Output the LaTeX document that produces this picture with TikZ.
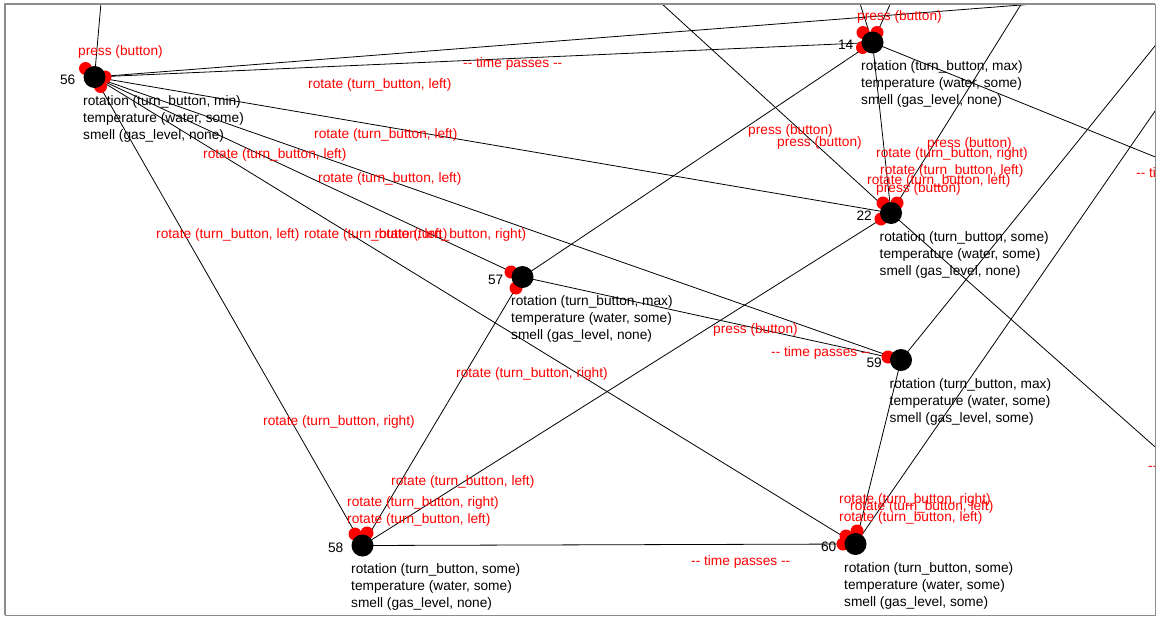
\documentclass[tikz,border=0pt]{standalone}
\usepackage{fontspec}
\setmainfont{Liberation Sans}
\usetikzlibrary{calc}
\definecolor{framegray}{RGB}{140,140,140}
\definecolor{actred}{RGB}{255,0,0}
\begin{document}
\begin{tikzpicture}[x=1pt,y=-1pt,
  edge/.style={line width=0.8pt, black},
  state/.style={circle, fill=black, minimum size=22pt, inner sep=0pt},
  head/.style={fill=actred},
  lbl/.style={inner sep=0pt, font=\fontsize{13.7}{17}\selectfont},
  num/.style={lbl, anchor=base east},
  info/.style={lbl, anchor=north west, align=left},
  act/.style={lbl, anchor=base west, text=actred},
]
\useasboundingbox (0,0) rectangle (1156,616);

% state positions
\coordinate (c56) at (94.5,77);
\coordinate (c14) at (872.5,42.5);
\coordinate (c22) at (891,213);
\coordinate (c57) at (522.5,277);
\coordinate (c59) at (901,360);
\coordinate (c58) at (362.5,545.5);
\coordinate (c60) at (855.5,544);

% states lying outside the visible window
\coordinate (o1) at (103,-20);
\coordinate (o2) at (1150,-5);
\coordinate (o3) at (855,-12);
\coordinate (o4) at (900,-17);
\coordinate (o5) at (650,-7);
\coordinate (o6) at (1030,-10);
\coordinate (o7) at (1180,167);
\coordinate (o8) at (1180,15);
\coordinate (o9) at (1180,75);
\coordinate (o10) at (1180,469);

\begin{scope}
\clip (5,4) rectangle (1155,615);

% transitions
\draw[edge] (c56) -- (o1);
\draw[edge] (c56) -- (o2);
\draw[edge] (c56) -- (c14);
\draw[edge] (c56) -- (c22);
\draw[edge] (c56) -- (c59);
\draw[edge] (c56) -- (c57);
\draw[edge] (c56) -- (c60);
\draw[edge] (c56) -- (c58);
\draw[edge] (o3) -- (c14);
\draw[edge] (o4) -- (c14);
\draw[edge] (c57) -- (c14);
\draw[edge] (c14) -- (c22);
\draw[edge] (c14) -- (o7);
\draw[edge] (o5) -- (c22);
\draw[edge] (o6) -- (c22);
\draw[edge] (c22) -- (o10);
\draw[edge] (c22) -- (c58);
\draw[edge] (o8) -- (c59);
\draw[edge] (o9) -- (c60);
\draw[edge] (c57) -- (c59);
\draw[edge] (c57) -- (c58);
\draw[edge] (c58) -- (c60);
\draw[edge] (c59) -- (c60);

% arrival marks
\fill[head] ($(c56)+(-9,-8.5)$) circle[radius=6.5];
\fill[head] ($(c56)+(10.5,0)$) circle[radius=6.5];
\fill[head] ($(c56)+(6,9.5)$) circle[radius=6.5];
\fill[head] ($(c14)+(-9.5,-10)$) circle[radius=6.5];
\fill[head] ($(c14)+(4.5,-10)$) circle[radius=6.5];
\fill[head] ($(c14)+(-10,5)$) circle[radius=6.5];
\fill[head] ($(c22)+(-8,-10)$) circle[radius=6.5];
\fill[head] ($(c22)+(6,-10)$) circle[radius=6.5];
\fill[head] ($(c22)+(-10,6)$) circle[radius=6.5];
\fill[head] ($(c57)+(-11.5,-5)$) circle[radius=6.5];
\fill[head] ($(c57)+(-6.5,11)$) circle[radius=6.5];
\fill[head] ($(c59)+(-13,-3)$) circle[radius=6.5];
\fill[head] ($(c58)+(-7.5,-11.5)$) circle[radius=6.5];
\fill[head] ($(c58)+(4.5,-12.5)$) circle[radius=6.5];
\fill[head] ($(c60)+(-9.5,-8)$) circle[radius=6.5];
\fill[head] ($(c60)+(1.5,-13)$) circle[radius=6.5];
\fill[head] ($(c60)+(-12.5,0)$) circle[radius=6.5];

% states
\foreach \s in {56,14,22,57,59,58,60}{
  \node[state] (s\s) at (c\s) {};
  \node[num] (n\s) at ($(c\s)+(-19,7)$) {\s};
}

% state descriptions
\node[info] (i56) at ($(c56)+(-11.5,17)$) {\rule{0pt}{11pt}rotation (turn\_button, min)\\temperature (water, some)\\smell (gas\_level, none)};
\node[info] (i14) at ($(c14)+(-11.5,17)$) {\rule{0pt}{11pt}rotation (turn\_button, max)\\temperature (water, some)\\smell (gas\_level, none)};
\node[info] (i22) at ($(c22)+(-11.5,17)$) {\rule{0pt}{11pt}rotation (turn\_button, some)\\temperature (water, some)\\smell (gas\_level, none)};
\node[info] (i57) at ($(c57)+(-11.5,17)$) {\rule{0pt}{11pt}rotation (turn\_button, max)\\temperature (water, some)\\smell (gas\_level, none)};
\node[info] (i59) at ($(c59)+(-11.5,17)$) {\rule{0pt}{11pt}rotation (turn\_button, max)\\temperature (water, some)\\smell (gas\_level, some)};
\node[info] (i58) at ($(c58)+(-11.5,17)$) {\rule{0pt}{11pt}rotation (turn\_button, some)\\temperature (water, some)\\smell (gas\_level, none)};
\node[info] (i60) at ($(c60)+(-11.5,17)$) {\rule{0pt}{11pt}rotation (turn\_button, some)\\temperature (water, some)\\smell (gas\_level, some)};

% transition labels
\node[act] (a1) at (78,55.5) {press (button)};
\node[act] (a2) at (463,67.5) {-{}- time passes -{}-};
\node[act] (a3) at (308,88.5) {rotate (turn\_button, left)};
\node[act] (a4) at (314,138.5) {rotate (turn\_button, left)};
\node[act] (a5) at (203,158.5) {rotate (turn\_button, left)};
\node[act] (a6) at (318,182.5) {rotate (turn\_button, left)};
\node[act] (a7) at (156,238.5) {rotate (turn\_button, left)};
\node[act] (a8) at (304,238) {rotate (turn\_button, left)};
\node[act] (a9) at (374.5,238) {rotate (turn\_button, right)};
\node[act] (a10) at (263,425.5) {rotate (turn\_button, right)};
\node[act] (a11) at (456,377.5) {rotate (turn\_button, right)};
\node[act] (a12) at (713,333.5) {press (button)};
\node[act] (a13) at (771,356.5) {-{}- time passes -{}-};
\node[act] (a14) at (391,485.5) {rotate (turn\_button, left)};
\node[act] (a15) at (347,506.5) {rotate (turn\_button, right)};
\node[act] (a16) at (347,523.5) {rotate (turn\_button, left)};
\node[act] (a17) at (691,565.5) {-{}- time passes -{}-};
\node[act] (a18) at (839,503.5) {rotate (turn\_button, right)};
\node[act] (a19) at (850,510.5) {rotate (turn\_button, left)};
\node[act] (a20) at (839,521.5) {rotate (turn\_button, left)};
\node[act] (a21) at (857,20) {press (button)};
\node[act] (a22) at (748,134.5) {press (button)};
\node[act] (a23) at (777,146.5) {press (button)};
\node[act] (a24) at (927,147.5) {press (button)};
\node[act] (a25) at (876,157.5) {rotate (turn\_button, right)};
\node[act] (a26) at (880,174.5) {rotate (turn\_button, left)};
\node[act] (a27) at (867,184.5) {rotate (turn\_button, left)};
\node[act] (a28) at (876,192.5) {press (button)};
\node[act] (a29) at (1136,177.5) {-{}- time passes -{}-};
\node[act] (a30) at (1148,470.5) {-{}- time passes -{}-};
\end{scope}

% window frame
\draw[framegray, line width=2pt] (5,615) -- (5,4) -- (1155,4);
\draw[framegray, line width=1pt] (1155,4) -- (1155,615) -- (5,615);
\end{tikzpicture}
\end{document}
